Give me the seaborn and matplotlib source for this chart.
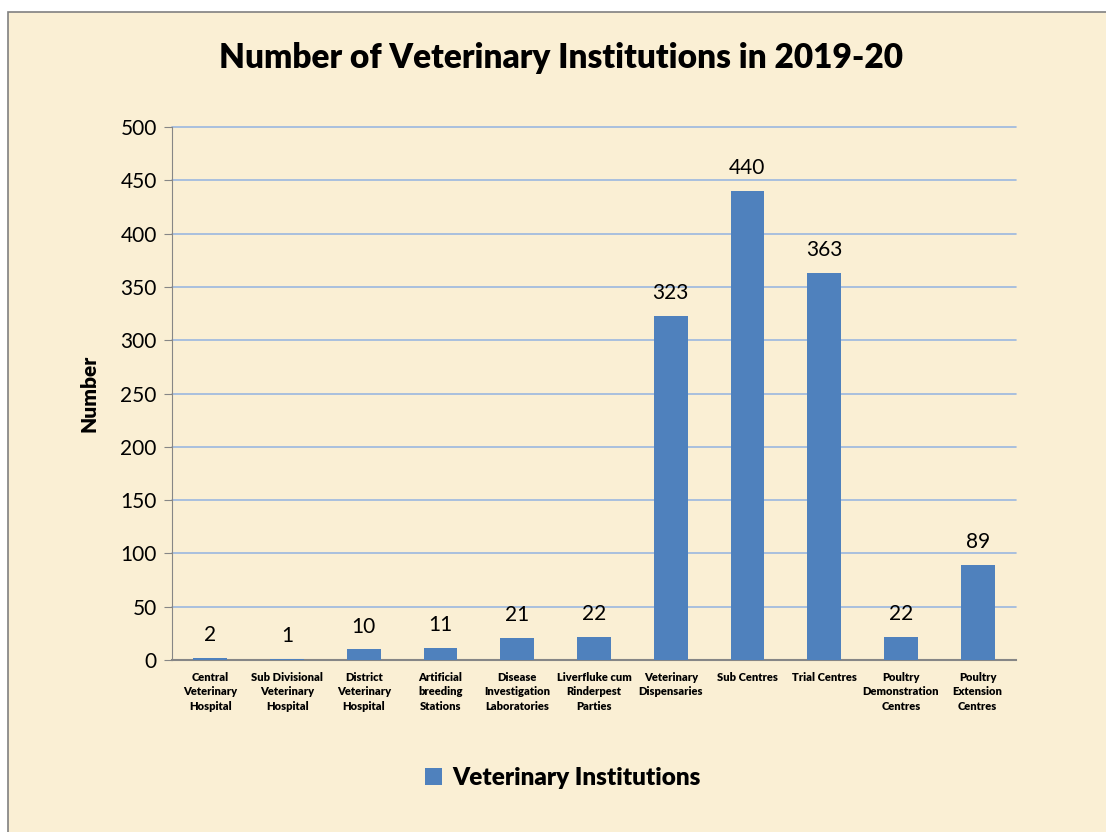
import numpy as np
import pandas as pd
import seaborn as sns
from matplotlib import pyplot as plt
from matplotlib.patches import Rectangle

categories = ['Central\nVeterinary\nHospital', 'Sub Divisional\nVeterinary\nHospital',
              'District\nVeterinary\nHospital', 'Artificial\nbreeding\nStations',
              'Disease\nInvestigation\nLaboratories', 'Liverfluke cum\nRinderpest\nParties',
              'Veterinary\nDispensaries', 'Sub Centres', 'Trial Centres',
              'Poultry\nDemonstration\nCentres', 'Poultry\nExtension\nCentres']
values = [2, 1, 10, 11, 21, 22, 323, 440, 363, 22, 89]
series_name = 'Veterinary Institutions'

bg = '#FAEFD4'
bar_color = '#4F81BD'

sns.set_style('white')
plt.rcParams['font.family'] = ['Lato', 'DejaVu Sans']
plt.rcParams['text.color'] = 'black'
plt.rcParams['xtick.color'] = 'black'
plt.rcParams['ytick.color'] = 'black'
plt.rcParams['axes.labelcolor'] = 'black'

df = pd.DataFrame({'cat': categories, 'val': values, 'series': series_name})

fig = plt.figure(figsize=(11.06, 8.32), dpi=100)
fig.patch.set_facecolor('white')
# parchment panel with frame
fig.patches.append(Rectangle((8 / 1106, -0.01), 1.02, 1 - 12 / 832 + 0.01, transform=fig.transFigure,
                             facecolor=bg, edgecolor='#808080', linewidth=1.2, zorder=-5))

ax = fig.add_axes([172 / 1106, 1 - 660 / 832, (1016 - 172) / 1106, (660 - 127) / 832])
ax.set_zorder(2)
ax.set_facecolor('none')
sns.barplot(data=df, x='cat', y='val', hue='series', palette=[bar_color], width=0.44,
            saturation=1, linewidth=0, ax=ax, zorder=3)

ax.set_ylim(0, 500)
ax.set_yticks(np.arange(0, 501, 50))
ax.yaxis.grid(True, color='#9BB7E0', linewidth=1.2, zorder=0)
for gl in ax.get_ygridlines():
    gl.set_clip_on(False)
ax.set_axisbelow(True)
for s in ['top', 'right']:
    ax.spines[s].set_visible(False)
ax.spines['left'].set_color('#868686')
ax.spines['bottom'].set_color('#868686')
ax.spines['bottom'].set_linewidth(1.5)
ax.tick_params(axis='y', left=True, length=6, color='#868686', labelcolor='black', labelsize=15, pad=5)
ax.tick_params(axis='x', bottom=False, labelsize=8, labelcolor='black', pad=5)
for t in ax.get_xticklabels():
    t.set_fontweight('heavy')
    t.set_verticalalignment('top')
    t.set_linespacing(1.4)

for i, v in enumerate(values):
    ax.text(i, v + 12, str(v), ha='center', va='bottom', fontsize=15)

ax.set_xlabel('')
ax.set_ylabel('Number', fontsize=15, fontweight='heavy', labelpad=16)
fig.text(0.507, 1 - 58 / 832, 'Number of Veterinary Institutions in 2019-20',
         ha='center', va='center', fontsize=24, fontweight='heavy')

ax.legend(loc='center', bbox_to_anchor=(563 / 1106, 1 - 778 / 832), bbox_transform=fig.transFigure,
          frameon=False, prop={'size': 17.5, 'weight': 'heavy'}, handlelength=0.7, handleheight=0.7,
          handletextpad=0.4)

fig.savefig('out.png', dpi=100, facecolor=fig.get_facecolor())
